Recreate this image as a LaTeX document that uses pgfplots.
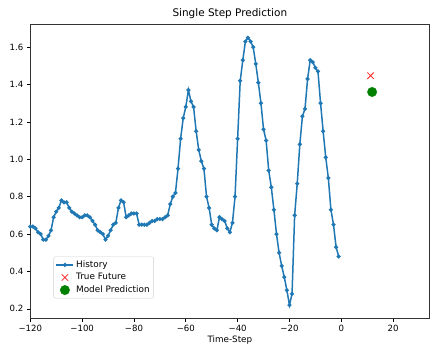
\documentclass[border=0pt]{standalone}
\usepackage{pgfplots}
\pgfplotsset{compat=1.18}
\usepackage{pgfplotstable}
\usepackage{fontspec}
\setmainfont{DejaVu Sans}
\usetikzlibrary{calc}
\definecolor{mplblue}{HTML}{1F77B4}
\definecolor{mplred}{HTML}{FF2020}
\definecolor{mplgreen}{HTML}{008000}
\pgfplotstableread{
t v
-120 0.64
-119 0.64
-118 0.63
-117 0.61
-116 0.60
-115 0.57
-114 0.57
-113 0.59
-112 0.62
-111 0.69
-110 0.72
-109 0.74
-108 0.78
-107 0.77
-106 0.77
-105 0.74
-104 0.72
-103 0.71
-102 0.70
-101 0.69
-100 0.69
-99 0.70
-98 0.70
-97 0.69
-96 0.67
-95 0.65
-94 0.62
-93 0.61
-92 0.60
-91 0.57
-90 0.59
-89 0.62
-88 0.65
-87 0.66
-86 0.74
-85 0.78
-84 0.77
-83 0.69
-82 0.70
-81 0.71
-80 0.71
-79 0.71
-78 0.65
-77 0.65
-76 0.65
-75 0.65
-74 0.66
-73 0.67
-72 0.67
-71 0.68
-70 0.68
-69 0.68
-68 0.69
-67 0.70
-66 0.76
-65 0.80
-64 0.82
-63 0.95
-62 1.11
-61 1.22
-60 1.28
-59 1.37
-58 1.31
-57 1.28
-56 1.15
-55 1.05
-54 0.99
-53 0.95
-52 0.80
-51 0.74
-50 0.65
-49 0.63
-48 0.62
-47 0.69
-46 0.68
-45 0.67
-44 0.63
-43 0.61
-42 0.66
-41 0.80
-40 1.11
-39 1.42
-38 1.53
-37 1.63
-36 1.65
-35 1.63
-34 1.60
-33 1.51
-32 1.41
-31 1.30
-30 1.16
-29 1.10
-28 0.94
-27 0.85
-26 0.73
-25 0.60
-24 0.50
-23 0.43
-22 0.37
-21 0.30
-20 0.22
-19 0.28
-18 0.70
-17 0.87
-16 1.08
-15 1.23
-14 1.27
-13 1.43
-12 1.53
-11 1.52
-10 1.49
-9 1.47
-8 1.30
-7 1.15
-6 1.01
-5 0.90
-4 0.73
-3 0.65
-2 0.53
-1 0.48
}\history
\begin{document}
\begin{tikzpicture}
\begin{axis}[
  scale only axis, width=399bp, height=294bp,
  xmin=-120, xmax=34, ymin=0.149, ymax=1.722,
  xtick={-120,-100,-80,-60,-40,-20,0,20},
  xticklabels={−120,−100,−80,−60,−40,−20,0,20},
  ytick={0.2,0.4,0.6,0.8,1.0,1.2,1.4,1.6},
  yticklabels={0.2,0.4,0.6,0.8,1.0,1.2,1.4,1.6},
  tick align=outside, tick pos=left,
  major tick length=3.5bp,
  tick style={black, line width=0.6bp},
  axis line style={black!80, line width=0.6bp},
  ticklabel style={font=\fontsize{8.6}{10}\selectfont},
  title={Single Step Prediction},
  title style={font=\fontsize{10.5}{12}\selectfont, yshift=-3.5bp},
  xlabel={Time-Step},
  xlabel style={font=\fontsize{8.8}{10}\selectfont, yshift=3bp},
  legend style={at={(0.058,0.068)}, anchor=south west, draw=black!18,
    rounded corners=2bp, font=\fontsize{8.9}{10}\selectfont,
    row sep=0.5bp, inner sep=2bp},
  legend cell align=left,
]
\addplot[mplblue, line width=1.5bp, mark=*, mark size=1.2bp] table[x=t, y=v] {\history};
\addlegendentry{History}
\addplot[only marks, mplred, mark=x, mark size=4.5bp, mark options={line width=0.8bp}] coordinates {(11.3,1.447)};
\addlegendentry{True Future}
\addplot[only marks, mplgreen, mark=*, mark size=4.7bp] coordinates {(11.9,1.36)};
\addlegendentry{Model Prediction}
\end{axis}
\pgfresetboundingbox
\path[use as bounding box] ($(current axis.south west)+(-30.3bp,-26.7bp)$) rectangle ($(current axis.north east)+(0.6bp,24.3bp)$);
\end{tikzpicture}
\end{document}
